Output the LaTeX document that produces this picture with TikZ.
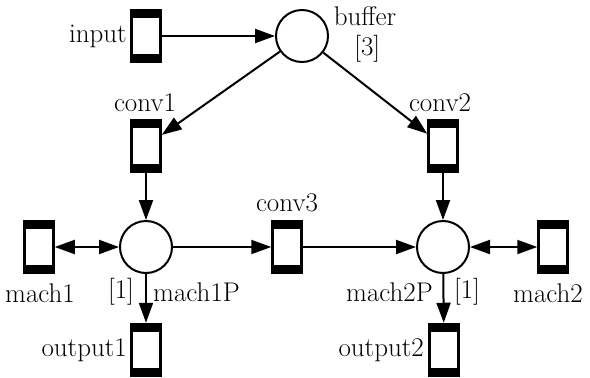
\documentclass[tikz,border=0pt]{standalone}
\usetikzlibrary{arrows.meta}
\begin{document}
\begin{tikzpicture}[x=1pt,y=-1pt,
 trans/.style={draw, line width=2.5pt, minimum width=29pt, minimum height=52pt, inner sep=0pt, fill=white,
   path picture={\fill[black] (path picture bounding box.north west) rectangle ([yshift=-8pt]path picture bounding box.north east);
                 \fill[black] (path picture bounding box.south west) rectangle ([yshift=8pt]path picture bounding box.south east);}},
 place/.style={draw, circle, line width=2pt, minimum size=52pt, inner sep=0pt},
 arc/.style={line width=2pt, -{Triangle[length=20pt,width=14pt]}},
 biarc/.style={line width=2pt, {Triangle[length=20pt,width=14pt]}-{Triangle[length=20pt,width=14pt]}},
 lbl/.style={font=\fontsize{27}{30}\selectfont, inner sep=0pt}]
\useasboundingbox (0,0) rectangle (590,378);
% places
\node[place] (buffer) at (302,36) {};
\node[place] (mach1P) at (146,247) {};
\node[place] (mach2P) at (443,247) {};
% transitions
\node[trans] (input) at (146,36) {};
\node[trans] (conv1) at (146,146) {};
\node[trans] (conv2) at (443,146) {};
\node[trans] (conv3) at (287,247) {};
\node[trans] (mach1) at (39,247) {};
\node[trans] (mach2) at (553,247) {};
\node[trans] (output1) at (146,350) {};
\node[trans] (output2) at (444,350) {};
% labels
\node[lbl, anchor=east] (linput) at (127,36) {input};
\node[lbl, align=center] (lbuffer) at (365,34) {buffer\\\,[3]};
\node[lbl] (lconv1) at (145,103) {conv1};
\node[lbl] (lconv2) at (440,103) {conv2};
\node[lbl] (lconv3) at (287,203) {conv3};
\node[lbl] (lmach1) at (40,293) {mach1};
\node[lbl] (lmach2) at (548,293) {mach2};
\node[lbl] (lb1) at (121,292) {[1]};
\node[lbl, anchor=west] (lm1p) at (153,292) {mach1P};
\node[lbl, anchor=east] (lm2p) at (433,292) {mach2P};
\node[lbl] (lb2) at (467,292) {[1]};
\node[lbl, anchor=east] (lout1) at (127,350) {output1};
\node[lbl, anchor=east] (lout2) at (424,350) {output2};
% arcs
\draw[arc] (input) -- (buffer);
\draw[arc] (buffer) -- (conv1);
\draw[arc] (buffer) -- (conv2);
\draw[arc] (conv1) -- (mach1P);
\draw[arc] (conv2) -- (mach2P);
\draw[biarc] (mach1) -- (mach1P);
\draw[biarc] (mach2P) -- (mach2);
\draw[arc] (mach1P) -- (conv3);
\draw[arc] (conv3) -- (mach2P);
\draw[arc] (mach1P) -- (output1);
\draw[arc] (mach2P) -- (output2);
\end{tikzpicture}
\end{document}
